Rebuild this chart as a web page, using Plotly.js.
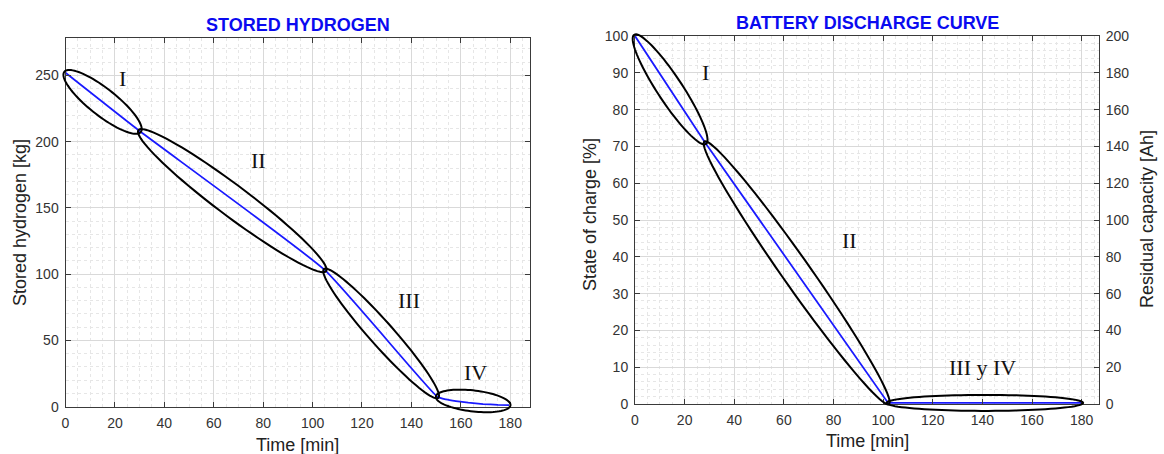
<!DOCTYPE html>
<html>
<head>
<meta charset="utf-8">
<script src="https://cdn.plot.ly/plotly-3.0.1.min.js"></script>
<style>html,body{margin:0;padding:0;background:#fff}</style>
</head>
<body>
<div id="chart" style="width:1164px;height:454px"></div>
<script>
// ---- Stored hydrogen (kg) against time (min) ----
const h2Time = [0, 30, 105, 150.5, 154, 158, 163, 169, 175, 179.5];
const h2Mass = [252, 208, 103, 7.5, 5.5, 4.2, 3, 2, 1.4, 1.2];
// series index where each phase begins and ends
const h2PhaseBreaks = [0, 1, 2, 3, 9];
const h2PhaseNames = ['I', 'II', 'III', 'IV'];
const h2LabelTime = [23, 78, 139, 166];
const h2LabelMass = [248, 186, 80, 26];

// ---- Battery state of charge (%) against time (min) ----
const socTime = [0, 28.3, 102, 180];
const socValue = [100, 71, 0.3, 0.3];
const socPhaseBreaks = [0, 1, 2, 3];
const socPhaseNames = ['I', 'II', 'III y IV'];
const socLabelTime = [28.5, 86.5, 140];
const socLabelValue = [90, 44.5, 10];

// axis ranges
const h2TimeRange = [0, 188];
const h2MassRange = [0, 278];
const socTimeRange = [0, 187];
const socRange = [0, 100];
const capacityRange = [0, 200];

const W = 1164, H = 454;
// plot boxes in pixels
const boxL = {x0: 65.5, x1: 530, y0: 38.3, y1: 406.7};
const boxR = {x0: 635, x1: 1099, y0: 36, y1: 404};

const SANS = 'Liberation Sans, Arial, Helvetica, sans-serif';
const SERIF = 'Liberation Serif, Times New Roman, serif';
const AXIS_COLOR = '#3a3a3a';

function xDomain(b) { return [b.x0 / W, b.x1 / W]; }
function yDomain(b) { return [1 - b.y1 / H, 1 - b.y0 / H]; }

function baseAxis(extra) {
  return Object.assign({
    showline: true, linecolor: AXIS_COLOR, linewidth: 1,
    ticks: 'inside', ticklen: 5, tickwidth: 1, tickcolor: AXIS_COLOR,
    showgrid: true, gridcolor: '#d9d9d9', gridwidth: 1,
    zeroline: false, fixedrange: true,
    tickfont: {family: SANS, size: 14, color: '#333'},
    ticklabelstandoff: 3
  }, extra);
}

// data -> pixel -> paper, used for the phase ellipses
function makeMapper(box, xr, yr) {
  return function (x, y) {
    return [box.x0 + (x - xr[0]) / (xr[1] - xr[0]) * (box.x1 - box.x0),
            box.y1 - (y - yr[0]) / (yr[1] - yr[0]) * (box.y1 - box.y0)];
  };
}

function ellipsePath(p1, p2, semiMinor, pad) {
  const dx = p2[0] - p1[0], dy = p2[1] - p1[1];
  const len = Math.hypot(dx, dy);
  const ux = dx / len, uy = dy / len, vx = -uy, vy = ux;
  const cx = (p1[0] + p2[0]) / 2, cy = (p1[1] + p2[1]) / 2;
  const a = len / 2 + pad;
  let d = '';
  const n = 90;
  for (let i = 0; i <= n; i++) {
    const t = i / n * 2 * Math.PI;
    const px = cx + a * Math.cos(t) * ux + semiMinor * Math.sin(t) * vx;
    const py = cy + a * Math.cos(t) * uy + semiMinor * Math.sin(t) * vy;
    d += (i === 0 ? 'M ' : ' L ') + (px / W).toFixed(5) + ',' + (1 - py / H).toFixed(5);
  }
  return d + ' Z';
}

function phaseEllipses(xs, ys, breaks, mapper, widths) {
  const out = [];
  for (let k = 0; k < breaks.length - 1; k++) {
    const i0 = breaks[k], i1 = breaks[k + 1];
    out.push({
      type: 'path', xref: 'paper', yref: 'paper', layer: 'above',
      path: ellipsePath(mapper(xs[i0], ys[i0]), mapper(xs[i1], ys[i1]), widths[k], 1.5),
      line: {color: '#000', width: 2}
    });
  }
  return out;
}

const mapL = makeMapper(boxL, h2TimeRange, h2MassRange);
const mapR = makeMapper(boxR, socTimeRange, socRange);

const shapes = []
  .concat(phaseEllipses(h2Time, h2Mass, h2PhaseBreaks, mapL, [13.5, 15.5, 12, 10.5]))
  .concat(phaseEllipses(socTime, socValue, socPhaseBreaks, mapR, [12.5, 14, 8]));

function paperText(text, px, py, size, opts) {
  return Object.assign({
    text: text, xref: 'paper', yref: 'paper', x: px / W, y: 1 - py / H,
    xanchor: 'center', yanchor: 'middle', showarrow: false,
    font: {family: SANS, size: size, color: '#222'}
  }, opts || {});
}

const annotations = [
  paperText('<b>STORED HYDROGEN</b>', (boxL.x0 + boxL.x1) / 2, 25, 18, {font: {family: SANS, size: 18, color: '#0a0af0'}}),
  paperText('<b>BATTERY DISCHARGE CURVE</b>', (boxR.x0 + boxR.x1) / 2, 23, 18, {font: {family: SANS, size: 18, color: '#0a0af0'}}),
  paperText('Time [min]', (boxL.x0 + boxL.x1) / 2, 445, 18),
  paperText('Time [min]', (boxR.x0 + boxR.x1) / 2, 441, 18),
  paperText('Stored hydrogen [kg]', 20, 223, 18, {textangle: -90}),
  paperText('State of charge [%]', 590, 215, 18, {textangle: -90}),
  paperText('Residual capacity [Ah]', 1147, 219, 18, {textangle: -90})
];

h2PhaseNames.forEach((name, i) => annotations.push({
  text: name, xref: 'x', yref: 'y', x: h2LabelTime[i], y: h2LabelMass[i],
  showarrow: false, xanchor: 'center', yanchor: 'middle',
  font: {family: SERIF, size: 22, color: '#111'}
}));
socPhaseNames.forEach((name, i) => annotations.push({
  text: name, xref: 'x2', yref: 'y2', x: socLabelTime[i], y: socLabelValue[i],
  showarrow: false, xanchor: 'center', yanchor: 'middle',
  font: {family: SERIF, size: 22, color: '#111'}
}));

const traces = [
  {x: h2Time, y: h2Mass, xaxis: 'x', yaxis: 'y', type: 'scatter', mode: 'lines',
   line: {color: '#1a1aff', width: 1.8, shape: 'spline', smoothing: 0.4}, hoverinfo: 'skip'},
  {x: socTime, y: socValue, xaxis: 'x2', yaxis: 'y2', type: 'scatter', mode: 'lines',
   line: {color: '#1a1aff', width: 1.8}, hoverinfo: 'skip'},
  // empty trace that ties the residual-capacity axis to the battery subplot
  {x: [], y: [], xaxis: 'x2', yaxis: 'y3', type: 'scatter', mode: 'lines',
   hoverinfo: 'skip', showlegend: false}
];

const minorGrid = (dt) => ({dtick: dt, showgrid: true, gridcolor: '#e6e6e6', griddash: 'dot', gridwidth: 1, ticks: ''});

const layout = {
  width: W, height: H,
  margin: {l: 0, r: 0, t: 0, b: 0},
  paper_bgcolor: '#fff', plot_bgcolor: '#fff',
  showlegend: false,
  xaxis: baseAxis({domain: xDomain(boxL), anchor: 'y', range: h2TimeRange, dtick: 20, tick0: 0, mirror: 'ticks', minor: minorGrid(5)}),
  yaxis: baseAxis({domain: yDomain(boxL), anchor: 'x', range: h2MassRange, dtick: 50, tick0: 0, mirror: 'ticks', minor: minorGrid(10)}),
  xaxis2: baseAxis({domain: xDomain(boxR), anchor: 'y2', range: socTimeRange, dtick: 20, tick0: 0, mirror: 'ticks', minor: minorGrid(5)}),
  yaxis2: baseAxis({domain: yDomain(boxR), anchor: 'x2', range: socRange, dtick: 10, tick0: 0, minor: minorGrid(2)}),
  yaxis3: baseAxis({anchor: 'x2', overlaying: 'y2', side: 'right', range: capacityRange, dtick: 20, tick0: 0, showgrid: false}),
  shapes: shapes,
  annotations: annotations
};

Plotly.newPlot('chart', traces, layout, {staticPlot: true, displayModeBar: false});
</script>
</body>
</html>
